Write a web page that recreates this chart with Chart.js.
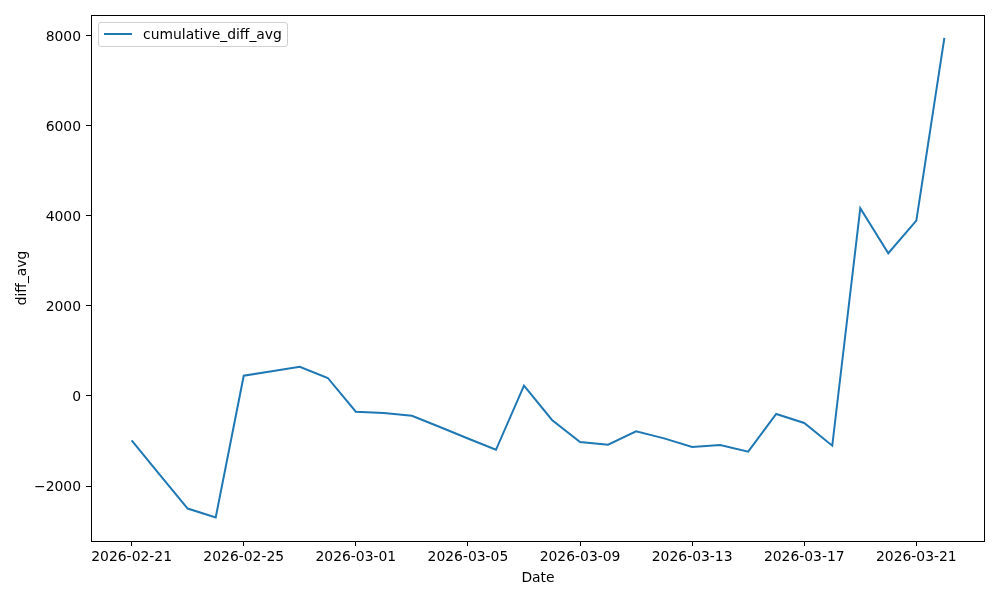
<!DOCTYPE html>
<html>
<head>
<meta charset="utf-8">
<script src="https://cdn.jsdelivr.net/npm/chart.js@4"></script>
<style>
  html, body { margin: 0; padding: 0; background: #fff; }
  #wrap { position: relative; width: 1000px; height: 600px; }
  #legend {
    position: absolute; left: 98px; top: 22px; width: 190px; height: 25px;
    border: 1px solid #d0d0d0; border-radius: 3px; background: rgba(255,255,255,0.8);
    font-family: "DejaVu Sans", sans-serif; font-size: 13.9px; color: #000;
    box-sizing: border-box;
  }
  #legend .swatch {
    position: absolute; left: 5px; top: 10px; width: 28px; height: 2px; background: #1f77b4;
  }
  #legend .label { position: absolute; left: 44px; top: 3px; line-height: 16px; white-space: nowrap; }
</style>
</head>
<body>
<div id="wrap">
  <canvas id="chart" width="1000" height="600"></canvas>
  <div id="legend"><span class="swatch"></span><span class="label">cumulative_diff_avg</span></div>
</div>
<script>
// dates, one per day
const dates = [
  '2026-02-21', '2026-02-22', '2026-02-23', '2026-02-24', '2026-02-25', '2026-02-26',
  '2026-02-27', '2026-02-28', '2026-03-01', '2026-03-02', '2026-03-03', '2026-03-04',
  '2026-03-05', '2026-03-06', '2026-03-07', '2026-03-08', '2026-03-09', '2026-03-10',
  '2026-03-11', '2026-03-12', '2026-03-13', '2026-03-14', '2026-03-15', '2026-03-16',
  '2026-03-17', '2026-03-18', '2026-03-19', '2026-03-20', '2026-03-21', '2026-03-22'
];
const cumulativeDiffAvg = [
  -985, -1745, -2500, -2700, 450, 550,
  650, 400, -350, -378, -440, -690,
  -945, -1195, 230, -533, -1022, -1081,
  -785, -941, -1133, -1089, -1237, -400,
  -600, -1104, 4170, 3170, 3896, 7955
];
const xTickIdx = [0, 4, 8, 12, 16, 20, 24, 28];
const yTicks = [-2000, 0, 2000, 4000, 6000, 8000];

const FONT = { family: '"DejaVu Sans", sans-serif', size: 13.9 };

const frame = {
  id: 'frame',
  afterDraw(chart) {
    const { ctx, chartArea: a } = chart;
    ctx.save();
    ctx.strokeStyle = '#000';
    ctx.lineWidth = 1;
    ctx.strokeRect(Math.round(a.left) + 0.5, Math.round(a.top) + 0.5,
      Math.round(a.right - a.left) - 1, Math.round(a.bottom - a.top));
    ctx.restore();
  }
};

const ctx = document.getElementById('chart').getContext('2d');
new Chart(ctx, {
  type: 'line',
  data: {
    datasets: [{
      label: 'cumulative_diff_avg',
      data: cumulativeDiffAvg.map((v, i) => ({ x: i, y: v })),
      borderColor: '#1f77b4',
      backgroundColor: '#1f77b4',
      borderWidth: 2,
      pointRadius: 0,
      tension: 0,
      fill: false
    }]
  },
  options: {
    responsive: false,
    animation: false,
    devicePixelRatio: 1,
    layout: { padding: { left: 0, right: 15, top: 15, bottom: 0 } },
    plugins: { legend: { display: false }, tooltip: { enabled: false } },
    scales: {
      x: {
        type: 'linear',
        min: -1.45,
        max: 30.45,
        afterBuildTicks: s => { s.ticks = xTickIdx.map(v => ({ value: v })); },
        afterFit: s => { s.height = 59; },
        ticks: {
          color: '#000', font: FONT, padding: 3, maxRotation: 0, autoSkip: false,
          callback: v => dates[v]
        },
        grid: { drawOnChartArea: false, drawTicks: true, tickLength: 5, tickColor: '#000' },
        border: { display: false },
        title: { display: true, text: 'Date', color: '#000', font: FONT, padding: { top: 0, bottom: 13 } }
      },
      y: {
        min: -3221,
        max: 8461,
        afterBuildTicks: s => { s.ticks = yTicks.map(v => ({ value: v })); },
        afterFit: s => { s.width = 91; },
        ticks: {
          color: '#000', font: FONT, padding: 5, labelOffset: 1.5,
          callback: v => (v < 0 ? '\u2212' + Math.abs(v) : String(v))
        },
        grid: { drawOnChartArea: false, drawTicks: true, tickLength: 5, tickColor: '#000' },
        border: { display: false },
        title: { display: true, text: 'diff_avg', color: '#000', font: FONT, padding: { top: 14, bottom: 0 } }
      }
    }
  },
  plugins: [frame]
});
</script>
</body>
</html>
